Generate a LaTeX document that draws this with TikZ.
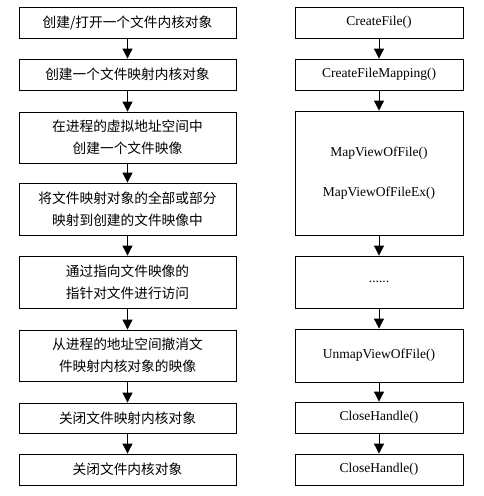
\documentclass[tikz,border=0pt]{standalone}
\usepackage{fontspec}
\setmainfont{Liberation Serif}
\newfontfamily\cjk{Noto Sans CJK SC}
\usetikzlibrary{arrows.meta}

\begin{document}
\begin{tikzpicture}[x=1pt,y=-1pt,
            box/.style={draw=black,line width=0.8pt,align=center,inner sep=0pt},
            lbox/.style={box,minimum width=217pt,font=\cjk\fontsize{13.7}{22}\selectfont},
            rbox/.style={box,minimum width=168pt,font=\fontsize{13.5}{20}\selectfont},
            arr/.style={line width=0.8pt,-{Triangle[width=10pt,length=10pt]}}]
            \useasboundingbox (0,0) rectangle (484,496);
            % left column
            \node[lbox,minimum height=31pt] (l1) at (127.5,22.5) {创建/打开一个文件内核对象};
            \node[lbox,minimum height=31pt] (l2) at (127.5,74.5) {创建一个文件映射内核对象};
            \node[lbox,minimum height=51pt] (l3) at (127.5,137.5) {在进程的虚拟地址空间中\\创建一个文件映像};
            \node[lbox,minimum height=52pt] (l4) at (127.5,209) {将文件映射对象的全部或部分\\映射到创建的文件映像中};
            \node[lbox,minimum height=52pt] (l5) at (127.5,282) {通过指向文件映像的\\指针对文件进行访问};
            \node[lbox,minimum height=51pt] (l6) at (127.5,355.5) {从进程的地址空间撤消文\\件映射内核对象的映像};
            \node[lbox,minimum height=30pt] (l7) at (127.5,418) {关闭文件映射内核对象};
            \node[lbox,minimum height=31pt] (l8) at (127.5,469.5) {关闭文件内核对象};
            % right column
            \node[rbox,minimum height=31pt] (r1) at (379,22.5) {CreateFile()};
            \node[rbox,minimum height=31pt] (r2) at (379,74.5) {CreateFileMapping()};
            \node[rbox,minimum height=124pt] (r3) at (379,173) {MapViewOfFile()\\[20pt]MapViewOfFileEx()};
            \node[rbox,minimum height=52pt] (r4) at (379,282) {......};
            \node[rbox,minimum height=53pt] (r5) at (379,355.5) {UnmapViewOfFile()};
            \node[rbox,minimum height=31pt] (r6) at (379,417.5) {CloseHandle()};
            \node[rbox,minimum height=31pt] (r7) at (379,469.5) {CloseHandle()};
            \foreach \a/\b in {l1/l2,l2/l3,l3/l4,l4/l5,l5/l6,l6/l7,l7/l8,
                               r1/r2,r2/r3,r3/r4,r4/r5,r5/r6,r6/r7}
              \draw[arr] (\a) -- (\b);
          \end{tikzpicture}
\end{document}
